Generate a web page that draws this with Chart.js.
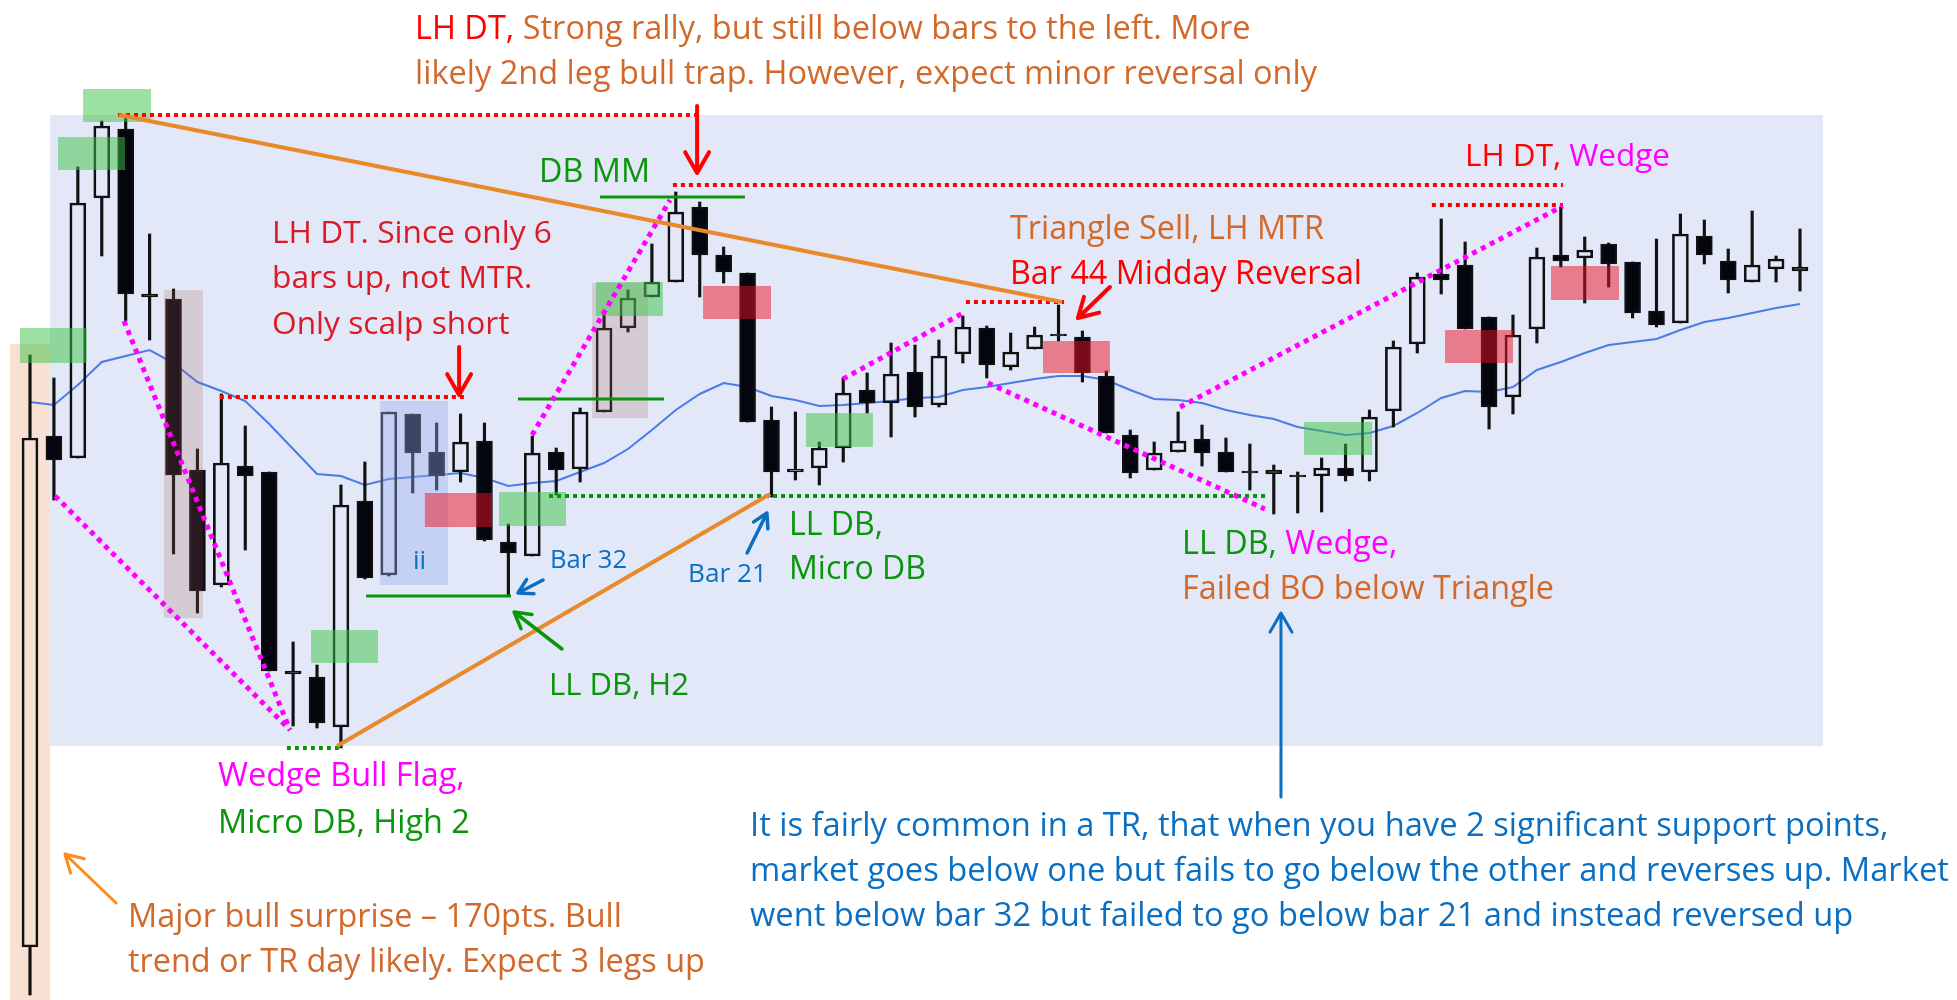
<!DOCTYPE html>
<html>
<head>
<meta charset="utf-8">
<script src="https://cdn.jsdelivr.net/npm/chart.js@4.4.1/dist/chart.umd.min.js"></script>
<style>
  html, body { margin: 0; padding: 0; background: #fff; }
  #wrap { position: relative; width: 1957px; height: 1000px; overflow: hidden; }
  #chart { position: absolute; left: 0; top: 0; }
  .note { position: absolute; white-space: nowrap; font-family: "Open Sans", sans-serif; line-height: 1; }
</style>
</head>
<body>
<div id="wrap"><canvas id="chart" width="1957" height="1000"></canvas></div>
<script>
// bar numbers of the session
const barLabels = [1, 2, 3, 4, 5, 6, 7, 8, 9, 10, 11, 12, 13, 14, 15, 16, 17, 18, 19, 20,
  21, 22, 23, 24, 25, 26, 27, 28, 29, 30, 31, 32, 33, 34, 35, 36, 37, 38, 39, 40,
  41, 42, 43, 44, 45, 46, 47, 48, 49, 50, 51, 52, 53, 54, 55, 56, 57, 58, 59, 60,
  61, 62, 63, 64, 65, 66, 67, 68, 69, 70, 71, 72, 73, 74, 75];

// OHLC (arbitrary price units)
const opens = [53, 564, 542, 802, 871, 706, 701, 530, 415, 534, 528, 329, 323, 273, 499, 425, 586, 548, 528, 559,
  458, 444, 548, 531, 588, 672, 703, 718, 793, 745, 727, 580, 528, 532, 552, 610, 597, 628, 595, 646,
  672, 633, 651, 666, 663, 624, 565, 530, 548, 561, 548, 529, 530, 525, 524, 532, 528, 589, 656, 726,
  735, 683, 603, 671, 745, 742, 756, 738, 689, 677, 764, 739, 718, 731, 733];
const highs = [645, 622, 833, 879, 884, 766, 711, 551, 606, 574, 528, 358, 335, 515, 538, 588, 586, 577, 586, 577,
  476, 564, 552, 592, 687, 710, 756, 808, 798, 753, 727, 593, 588, 558, 622, 627, 657, 655, 660, 684,
  674, 667, 673, 695, 669, 629, 570, 558, 588, 575, 562, 556, 535, 528, 542, 556, 590, 659, 727, 781,
  758, 683, 685, 752, 793, 763, 757, 738, 761, 786, 780, 751, 789, 744, 771];
const lows = [5, 500, 542, 744, 679, 660, 446, 387, 413, 450, 329, 274, 272, 252, 421, 424, 507, 510, 518, 459,
  405, 444, 505, 518, 588, 668, 703, 718, 703, 717, 578, 503, 520, 515, 538, 587, 563, 583, 593, 637,
  622, 630, 651, 659, 618, 567, 522, 530, 548, 534, 528, 510, 486, 487, 488, 519, 519, 573, 647, 706,
  671, 571, 586, 657, 733, 697, 713, 682, 673, 677, 736, 707, 718, 718, 709];
const closes = [562, 540, 797, 874, 706, 703, 525, 409, 537, 524, 329, 326, 277, 495, 422, 588, 547, 524, 558, 460,
  447, 547, 530, 588, 672, 702, 718, 788, 745, 728, 578, 528, 531, 552, 607, 597, 626, 593, 644, 673,
  635, 648, 665, 664, 627, 567, 527, 547, 559, 547, 528, 527, 526, 523, 532, 524, 583, 653, 723, 720,
  671, 593, 665, 743, 739, 750, 736, 687, 675, 766, 745, 720, 735, 741, 729];

// 20 bar moving average
const ema20 = [598, 595, 615, 638, 644, 650, 637, 618, 609, 599, 576, 551, 526, 524, 515, 521, 523, 525, 527, 522,
  514, 517, 519, 528, 537, 551, 570, 590, 606, 617, 613, 604, 600, 594, 595, 597, 599, 602, 603, 610,
  613, 617, 621, 624, 624, 620, 610, 601, 600, 597, 590, 585, 581, 573, 569, 565, 567, 574, 587, 602,
  609, 608, 613, 630, 638, 647, 655, 658, 661, 670, 678, 682, 687, 692, 696];

const col = {
  red: '#ff0000', crimson: '#dc1a26', orange: '#d2692a', green: '#0a960a',
  magenta: '#ff00ff', blue: '#0a6fc2', line: '#e8892b'
};

// shaded zones: [barFrom, barTo, priceLow, priceHigh, colour]
const backdrops = [
  [1.84, 75.96, 254, 885, 'rgb(226,232,247)'],
  [0.16, 1.84, 0, 656, 'rgb(248,225,211)']
];
const boxes = [
  [6.60, 8.23, 382, 710, 'rgba(170,100,95,0.22)'],
  [24.50, 26.84, 582, 717, 'rgba(170,100,95,0.22)'],
  [15.63, 18.48, 415, 599, 'rgba(150,170,240,0.38)'],
  [3.22, 6.06, 878, 911, 'rgba(60,195,70,0.5)'],
  [2.17, 4.97, 830, 863, 'rgba(60,195,70,0.5)'],
  [0.58, 3.38, 637, 672, 'rgba(60,195,70,0.5)'],
  [12.75, 15.55, 337, 370, 'rgba(60,195,70,0.5)'],
  [20.61, 23.41, 474, 508, 'rgba(60,195,70,0.5)'],
  [24.66, 27.46, 684, 718, 'rgba(60,195,70,0.5)'],
  [33.44, 36.24, 553, 587, 'rgba(60,195,70,0.5)'],
  [54.26, 57.11, 545, 578, 'rgba(60,195,70,0.5)'],
  [17.51, 20.32, 473, 507, 'rgba(235,15,35,0.5)'],
  [29.14, 31.98, 681, 714, 'rgba(235,15,35,0.5)'],
  [43.35, 46.15, 627, 659, 'rgba(235,15,35,0.5)'],
  [60.16, 63.00, 637, 670, 'rgba(235,15,35,0.5)'],
  [64.59, 67.43, 700, 734, 'rgba(235,15,35,0.5)']
];

// guide lines: [bar1, price1, bar2, price2, colour, width, dash]
const dotR = [4, 4], dotM = [5, 5];
const guides = [
  [4.68, 885, 28.89, 885, col.red, 4, dotR],
  [27.88, 815, 65.09, 815, col.red, 4, dotR],
  [59.61, 795, 65.09, 795, col.red, 4, dotR],
  [8.94, 603, 19.23, 603, col.red, 4, dotR],
  [40.13, 698, 44.23, 698, col.red, 4, dotR],
  [22.70, 504, 52.67, 504, col.green, 4, dotR],
  [11.74, 252, 14.09, 252, col.green, 4, dotR],
  [15.05, 404, 21.11, 404, col.green, 3, []],
  [21.40, 601, 27.51, 601, col.green, 3, []],
  [24.83, 803, 30.89, 803, col.green, 3, []],
  [4.72, 885, 44.15, 698, col.line, 4, []],
  [13.84, 254, 31.94, 506, col.line, 4, []],
  [2.05, 504, 11.87, 270, col.magenta, 5, dotM],
  [4.93, 679, 11.87, 270, col.magenta, 5, dotM],
  [21.99, 565, 27.76, 800, col.magenta, 5, dotM],
  [34.99, 621, 40.01, 687, col.magenta, 5, dotM],
  [41.05, 617, 52.63, 491, col.magenta, 5, dotM],
  [49.08, 593, 65.09, 794, col.magenta, 5, dotM]
];

// arrows: [barFrom, priceFrom, barTo, priceTo, colour, width, head]
const pointers = [
  [28.89, 894, 28.89, 827, col.red, 4, 24],
  [18.94, 653, 18.94, 605, col.red, 4, 24],
  [46.15, 713, 44.81, 682, col.red, 4, 22],
  [22.45, 420, 21.40, 407, col.blue, 3.5, 16],
  [30.98, 447, 31.81, 487, col.blue, 3.5, 16],
  [23.24, 351, 21.24, 388, col.green, 3.5, 18],
  [53.30, 203, 53.30, 387, col.blue, 3, 22],
  [4.60, 97, 2.46, 146, '#ff8c1a', 3, 20]
];

function px(chart, bar) { return chart.scales.x.getPixelForValue(bar - 1); }
function py(chart, v) { return chart.scales.y.getPixelForValue(v); }

function fillBox(chart, b) {
  const c = chart.ctx;
  const x1 = px(chart, b[0]), x2 = px(chart, b[1]);
  const y1 = py(chart, b[3]), y2 = py(chart, b[2]);
  c.fillStyle = b[4];
  c.fillRect(x1, y1, x2 - x1, y2 - y1);
}

function strokeGuide(chart, g) {
  const c = chart.ctx;
  c.save();
  c.strokeStyle = g[4];
  c.lineWidth = g[5];
  c.setLineDash(g[6]);
  c.lineCap = 'butt';
  c.beginPath();
  c.moveTo(px(chart, g[0]), py(chart, g[1]));
  c.lineTo(px(chart, g[2]), py(chart, g[3]));
  c.stroke();
  c.restore();
}

function drawArrow(chart, p) {
  const c = chart.ctx;
  const x1 = px(chart, p[0]), y1 = py(chart, p[1]);
  const x2 = px(chart, p[2]), y2 = py(chart, p[3]);
  const a = Math.atan2(y2 - y1, x2 - x1), h = p[6];
  c.save();
  c.strokeStyle = p[4];
  c.lineWidth = p[5];
  c.lineCap = 'round';
  c.lineJoin = 'round';
  c.beginPath();
  c.moveTo(x1, y1);
  c.lineTo(x2, y2);
  c.moveTo(x2 - h * Math.cos(a - 0.52), y2 - h * Math.sin(a - 0.52));
  c.lineTo(x2, y2);
  c.lineTo(x2 - h * Math.cos(a + 0.52), y2 - h * Math.sin(a + 0.52));
  c.stroke();
  c.restore();
}

const marks = {
  id: 'marks',
  beforeDatasetsDraw(chart) {
    backdrops.forEach(b => fillBox(chart, b));
  },
  afterDatasetsDraw(chart) {
    boxes.forEach(b => fillBox(chart, b));
    guides.forEach(g => strokeGuide(chart, g));
    pointers.forEach(p => drawArrow(chart, p));
  }
};

const isBull = i => closes[i] > opens[i];
const wickStyle = { backgroundColor: '#111111', barThickness: 2.5, grouped: false, order: 2, clip: false };

new Chart(document.getElementById('chart'), {
  type: 'bar',
  data: {
    labels: barLabels,
    datasets: [
      {
        type: 'line',
        label: 'EMA',
        data: ema20,
        borderColor: '#4a7be6',
        borderWidth: 2,
        pointRadius: 0,
        tension: 0,
        order: 3,
        clip: false
      },
      Object.assign({ label: 'Upper wick', data: highs.map((h, i) => [Math.max(opens[i], closes[i]), h]) }, wickStyle),
      Object.assign({ label: 'Lower wick', data: lows.map((l, i) => [l, Math.min(opens[i], closes[i])]) }, wickStyle),
      {
        label: 'Body',
        data: opens.map((o, i) => [o, closes[i]]),
        backgroundColor: ctx => (isBull(ctx.dataIndex) ? 'rgba(0,0,0,0)' : '#05050f'),
        borderColor: '#111111',
        borderWidth: 2,
        borderSkipped: false,
        barThickness: 16,
        grouped: false,
        order: 1,
        clip: false
      }
    ]
  },
  options: {
    responsive: false,
    animation: false,
    devicePixelRatio: 1,
    layout: { padding: { left: 30, right: 157, top: 0, bottom: 0 } },
    plugins: { legend: { display: false }, tooltip: { enabled: false } },
    scales: {
      x: { display: false, offset: false },
      y: { display: false, min: 0, max: 1000 }
    }
  },
  plugins: [marks]
});

// text notes: left x, line centres, line used to size the block, its width
const notes = [
  { x: 415, cy: [28, 73], fit: [1, 902], lines: [
    [['LH DT,', 'red'], [' Strong rally, but still below bars to the left. More', 'orange']],
    [['likely 2nd leg bull trap. However, expect minor reversal only', 'orange']]] },
  { x: 539, cy: [170], fit: [0, 111], lines: [[['DB MM', 'green']]] },
  { x: 272, cy: [232, 277, 323], fit: [0, 280], lines: [
    [['LH DT. Since only 6', 'crimson']], [['bars up, not MTR.', 'crimson']], [['Only scalp short', 'crimson']]] },
  { x: 1010, cy: [227, 272], fit: [1, 352], lines: [
    [['Triangle Sell, LH MTR', 'orange']], [['Bar 44 Midday Reversal', 'red']]] },
  { x: 1465, cy: [155], fit: [0, 205], lines: [[['LH DT,', 'red'], [' Wedge', 'magenta']]] },
  { x: 413, cy: [560], size: 26, lines: [[['ii', 'blue']]] },
  { x: 550, cy: [560], fit: [0, 77], lines: [[['Bar 32', 'blue']]] },
  { x: 688, cy: [573], fit: [0, 79], lines: [[['Bar 21', 'blue']]] },
  { x: 789, cy: [524, 568], fit: [1, 137], lines: [[['LL DB,', 'green']], [['Micro DB', 'green']]] },
  { x: 1182, cy: [542, 587], fit: [1, 372], lines: [
    [['LL DB,', 'green'], [' Wedge,', 'magenta']], [['Failed BO below Triangle', 'orange']]] },
  { x: 549, cy: [684], fit: [0, 140], lines: [[['LL DB, H2', 'green']]] },
  { x: 218, cy: [775, 822], fit: [1, 252], lines: [[['Wedge Bull Flag,', 'magenta']], [['Micro DB, High 2', 'green']]] },
  { x: 128, cy: [915, 960], fit: [1, 577], lines: [
    [['Major bull surprise \u2013 170pts. Bull', 'orange']], [['trend or TR day likely. Expect 3 legs up', 'orange']]] },
  { x: 750, cy: [825, 870, 915], fit: [1, 1199], lines: [
    [['It is fairly common in a TR, that when you have 2 significant support points,', 'blue']],
    [['market goes below one but fails to go below the other and reverses up. Market', 'blue']],
    [['went below bar 32 but failed to go below bar 21 and instead reversed up', 'blue']]] }
];

const meter = document.createElement('canvas').getContext('2d');
const wrap = document.getElementById('wrap');
notes.forEach(n => {
  let size = n.size;
  if (!size) {
    meter.font = '100px "Open Sans"';
    const txt = n.lines[n.fit[0]].map(s => s[0]).join('');
    size = 100 * n.fit[1] / meter.measureText(txt).width;
  }
  n.lines.forEach((line, k) => {
    const div = document.createElement('div');
    div.className = 'note';
    div.style.left = n.x + 'px';
    div.style.top = (n.cy[k] - 0.53 * size) + 'px';
    div.style.fontSize = size.toFixed(2) + 'px';
    line.forEach(seg => {
      const sp = document.createElement('span');
      sp.textContent = seg[0];
      sp.style.color = col[seg[1]];
      div.appendChild(sp);
    });
    wrap.appendChild(div);
  });
});
</script>
</body>
</html>
